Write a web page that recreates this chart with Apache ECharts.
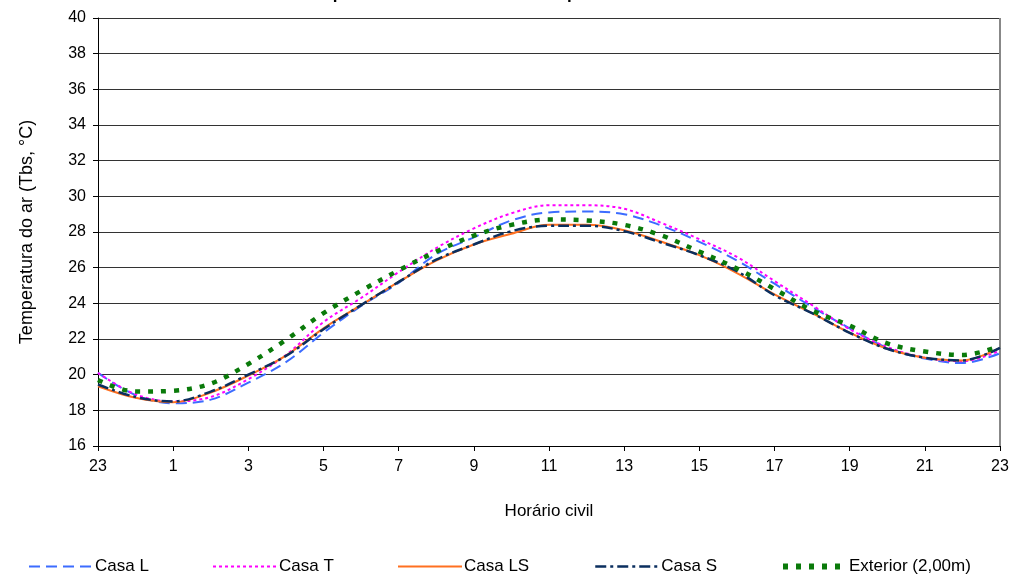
<!DOCTYPE html>
<html>
<head>
<meta charset="utf-8">
<script src="https://cdn.jsdelivr.net/npm/echarts@6/dist/echarts.min.js"></script>
<style>html,body{margin:0;padding:0;background:#fff}#c{width:1015px;height:576px}</style>
</head>
<body>
<div id="c"></div>
<script>
const hours = ['23','0','1','2','3','4','5','6','7','8','9','10','11','12','13','14','15','16','17','18','19','20','21','22','23'];
const casaL = [20.1, 18.85, 18.4, 18.6, 19.55, 20.7, 22.35, 23.85, 25.15, 26.75, 27.7, 28.65, 29.1, 29.15, 29.0, 28.35, 27.45, 26.4, 25.1, 23.8, 22.6, 21.5, 20.9, 20.65, 21.2];
const casaT = [20.1, 18.9, 18.5, 18.75, 19.75, 21.1, 22.95, 24.3, 25.75, 27.1, 28.2, 29.05, 29.5, 29.5, 29.3, 28.5, 27.6, 26.6, 25.25, 23.9, 22.55, 21.55, 20.95, 20.75, 21.35];
const casaLS = [19.35, 18.7, 18.45, 19.0, 19.95, 21.07, 22.6, 23.9, 25.2, 26.4, 27.3, 27.9, 28.4, 28.4, 28.1, 27.45, 26.7, 25.7, 24.5, 23.45, 22.35, 21.45, 20.95, 20.8, 21.5];
const casaS = [19.45, 18.75, 18.5, 19.05, 20.0, 21.05, 22.55, 23.9, 25.2, 26.45, 27.3, 28.05, 28.35, 28.35, 28.05, 27.4, 26.7, 25.8, 24.45, 23.45, 22.35, 21.45, 20.95, 20.8, 21.5];
const exterior = [19.7, 19.05, 19.1, 19.5, 20.6, 21.95, 23.45, 24.7, 25.85, 26.9, 27.8, 28.4, 28.7, 28.65, 28.4, 27.8, 26.9, 25.95, 24.8, 23.6, 22.75, 21.75, 21.3, 21.1, 21.6];
const seriesNames = ['Casa L', 'Casa T', 'Casa LS', 'Casa S', 'Exterior (2,00m)'];
const yTicks = {min: 16, max: 40, step: 2};

const FONT = "'Liberation Sans', Arial, sans-serif";
const chart = echarts.init(document.getElementById('c'), null, {renderer: 'canvas'});

const styles = [
  {color: '#3c6cff', width: 2, type: [11, 6]},
  {color: '#ff00ff', width: 2, type: [3, 3]},
  {color: '#ff7020', width: 2, type: 'solid'},
  {color: '#0b2f5f', width: 2.5, type: [11, 4, 3, 4]},
  {color: '#0a7a0a', width: 4.5, type: [5, 8]}
];
const dataSets = [casaL, casaT, casaLS, casaS, exterior];
const legendLeft = [28, 212, 397, 594, 780];

chart.setOption({
  animation: false,
  backgroundColor: '#fff',
  textStyle: {fontFamily: FONT},
  graphic: [{
    type: 'text', left: 299, top: -14,
    style: {text: 'Temperatura do ar nas casas em período de verão', font: 'bold 17px ' + FONT, fill: '#000'}
  }],
  legend: seriesNames.map((n, i) => ({
    data: [n], left: legendLeft[i], top: 558, padding: 0,
    itemWidth: 64, itemHeight: 14, itemGap: 5,
    itemStyle: {opacity: 0},
    lineStyle: {width: i === 4 ? 6 : styles[i].width, type: styles[i].type, color: styles[i].color},
    textStyle: {fontSize: 17, color: '#000', fontFamily: FONT, padding: [0, 0, 0, -3]}
  })),
  grid: {left: 98, right: 15, top: 18, bottom: 130, show: true, borderColor: 'transparent'},
  xAxis: {
    type: 'category', data: hours, boundaryGap: false,
    name: 'Horário civil', nameLocation: 'middle', nameGap: 57,
    nameTextStyle: {fontSize: 17, color: '#000', fontFamily: FONT},
    axisLine: {lineStyle: {color: '#000', width: 1}},
    axisTick: {interval: 1, length: 5, lineStyle: {color: '#000'}},
    axisLabel: {interval: 1, fontSize: 16, color: '#000', margin: 13, fontFamily: FONT},
    splitLine: {show: false}
  },
  yAxis: {
    type: 'value', min: yTicks.min, max: yTicks.max, interval: yTicks.step,
    name: 'Temperatura do ar (Tbs, °C)', nameLocation: 'middle', nameGap: 62, nameRotate: 90,
    nameTextStyle: {fontSize: 18, color: '#000', fontFamily: FONT},
    axisLine: {show: true, lineStyle: {color: '#000', width: 1}},
    axisTick: {show: true, length: 5, lineStyle: {color: '#000'}},
    axisLabel: {fontSize: 16, color: '#000', margin: 12, fontFamily: FONT},
    splitLine: {show: true, lineStyle: {color: '#333', width: 1}}
  },
  series: seriesNames.map((n, i) => ({
    name: n, type: 'line', data: dataSets[i], smooth: 0.35,
    symbol: 'none', showSymbol: false,
    lineStyle: {color: styles[i].color, width: styles[i].width, type: styles[i].type, cap: 'butt'},
    itemStyle: {color: styles[i].color},
    z: 2 + i
  })).concat([{
    type: 'line', data: [], markLine: {
      silent: true, symbol: 'none', label: {show: false},
      lineStyle: {color: '#888', width: 2, type: 'solid'},
      data: [{xAxis: hours.length - 1}]
    }
  }])
});
</script>
</body>
</html>
